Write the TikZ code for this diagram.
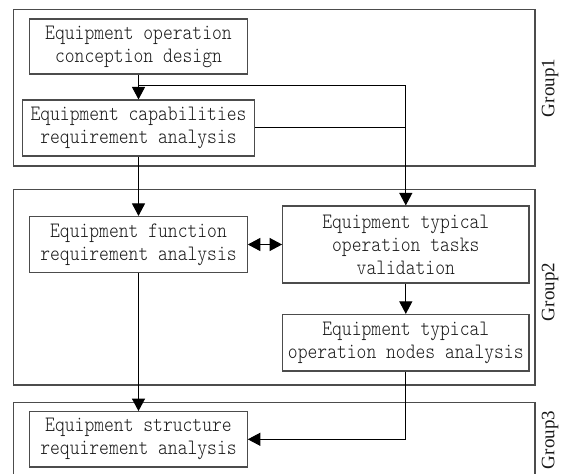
\documentclass[tikz,border=0pt]{standalone}
\usepackage{fontspec}
\newfontfamily\boxfont{lmmonolt10-regular.otf}[FakeStretch=0.85]
\newfontfamily\groupfont{Liberation Serif}
\usetikzlibrary{arrows.meta}

\tikzset{
  proc/.style={draw=black!70, line width=1.1pt, inner sep=0pt, align=center,
    text=black!90, font=\boxfont\fontsize{22}{23}\selectfont},
  grp/.style={draw=black!70, line width=1.1pt},
  grouplabel/.style={rotate=90, inner sep=0pt, text=black!90,
    font=\groupfont\fontsize{19}{19}\selectfont},
  link/.style={line width=1pt},
  tip/.tip={Triangle[length=12.5pt,width=13pt]},
  flow/.style={link, -tip},
  dflow/.style={link, tip-tip}
}

\begin{document}
\begin{tikzpicture}[x=1pt,y=-1pt]
  \useasboundingbox (0,0) rectangle (561,473);

  % group frames (the third one runs past the lower edge)
  \draw[grp] (13.5,9.5) rectangle (535,166);
  \draw[grp] (13.5,189.5) rectangle (535,385);
  \draw[grp] (13.5,490) -- (13.5,402.5) -- (535,402.5) -- (535,490);

  \node[grouplabel] (g1) at (550,88) {Group1};
  \node[grouplabel] (g2) at (550,292) {Group2};
  \node[grouplabel] (g3) at (550,440) {Group3};

  % process boxes
  \node[proc, minimum width=218.5pt, minimum height=55pt] (A) at (138.5,46.5)
    {Equipment operation\\conception design};
  \node[proc, minimum width=231.5pt, minimum height=56pt] (B) at (138.5,128)
    {Equipment capabilities\\requirement analysis};
  \node[proc, minimum width=217.5pt, minimum height=56pt] (C) at (138.5,244.5)
    {Equipment function\\requirement analysis};
  \node[proc, minimum width=246.3pt, minimum height=77pt] (D) at (405.8,244.5)
    {Equipment typical\\operation tasks\\validation};
  \node[proc, minimum width=246.3pt, minimum height=56.5pt] (E) at (405.8,342.7)
    {Equipment typical\\operation nodes analysis};
  \node[proc, minimum width=217.5pt, minimum height=55.3pt] (F) at (138.5,439.3)
    {Equipment structure\\requirement analysis};

  \coordinate (j) at (138.5,86);

  % connectors
  \draw[flow] (A) -- (B);
  \draw[flow] (j) -| (D.north);
  \draw[link] (B.east) -- (B.east -| D.north);
  \draw[flow] (B) -- (C);
  \draw[dflow] (C.east) -- (D.west);
  \draw[flow] (D) -- (E);
  \draw[flow] (C) -- (F);
  \draw[flow] (E.south) |- (F.east);
\end{tikzpicture}
\end{document}
